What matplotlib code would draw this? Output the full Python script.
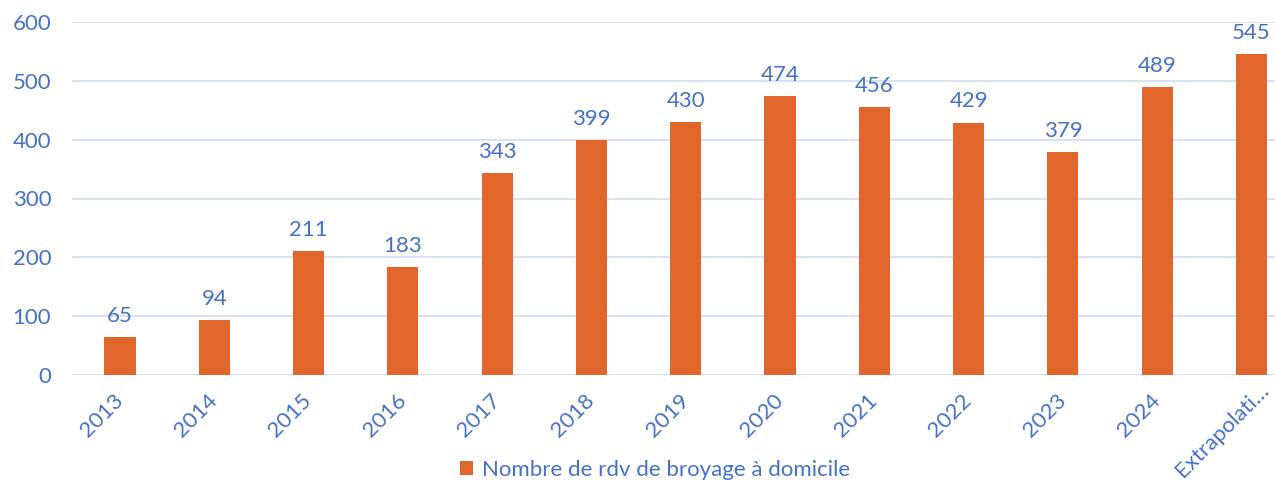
import matplotlib
matplotlib.use("Agg")
import matplotlib.pyplot as plt
from matplotlib.transforms import ScaledTranslation

categories = ["2013", "2014", "2015", "2016", "2017", "2018", "2019", "2020",
              "2021", "2022", "2023", "2024", "Extrapolati…"]
values = [65, 94, 211, 183, 343, 399, 430, 474, 456, 429, 379, 489, 545]
series_name = "Nombre de rdv de broyage à domicile"
yticks = [0, 100, 200, 300, 400, 500, 600]

BAR = "#E0662B"
TXT = "#4472C4"
GRID = "#D9E1F2"

plt.rcParams['font.family'] = ['Lato', 'DejaVu Sans']

fig = plt.figure(figsize=(12.75, 4.82), dpi=100)
ax = fig.add_axes([72/1275, 1-375/482, 1-72/1275, (375-22)/482])

x = list(range(len(categories)))
bars = ax.bar(x, values, width=0.33, color=BAR, label=series_name, zorder=3)
for xi, v in zip(x, values):
    ax.annotate(str(v), (xi, v), xytext=(0, 8), textcoords="offset points",
                ha="center", va="bottom", fontsize=16, color=TXT)

ax.set_ylim(0, 600)
ax.set_xlim(-0.509, 12.249)
ax.set_yticks(yticks)
ax.set_yticklabels([str(t) for t in yticks], fontsize=16, color=TXT)
ax.set_xticks(x)
ax.set_xticklabels(categories, rotation=45, ha="right", va="center",
                   rotation_mode="anchor", fontsize=16, color=TXT)
ax.tick_params(axis="both", length=0)
ax.tick_params(axis="y", pad=15)
ax.tick_params(axis="x", pad=16)
ax.grid(axis="y", color=GRID, linewidth=1.5, zorder=0)
for s in ax.spines.values():
    s.set_visible(False)

last = ax.get_xticklabels()[-1]
last.set_transform(last.get_transform() + ScaledTranslation(14/100, 10/100, fig.dpi_scale_trans))

fig.legend(handles=[bars], labels=[series_name], loc="center",
           bbox_to_anchor=(655/1275, 1-470/482), frameon=False, fontsize=16,
           labelcolor=TXT, handlelength=0.6, handleheight=0.6, handletextpad=0.4)

fig.savefig("out.png", dpi=100)
